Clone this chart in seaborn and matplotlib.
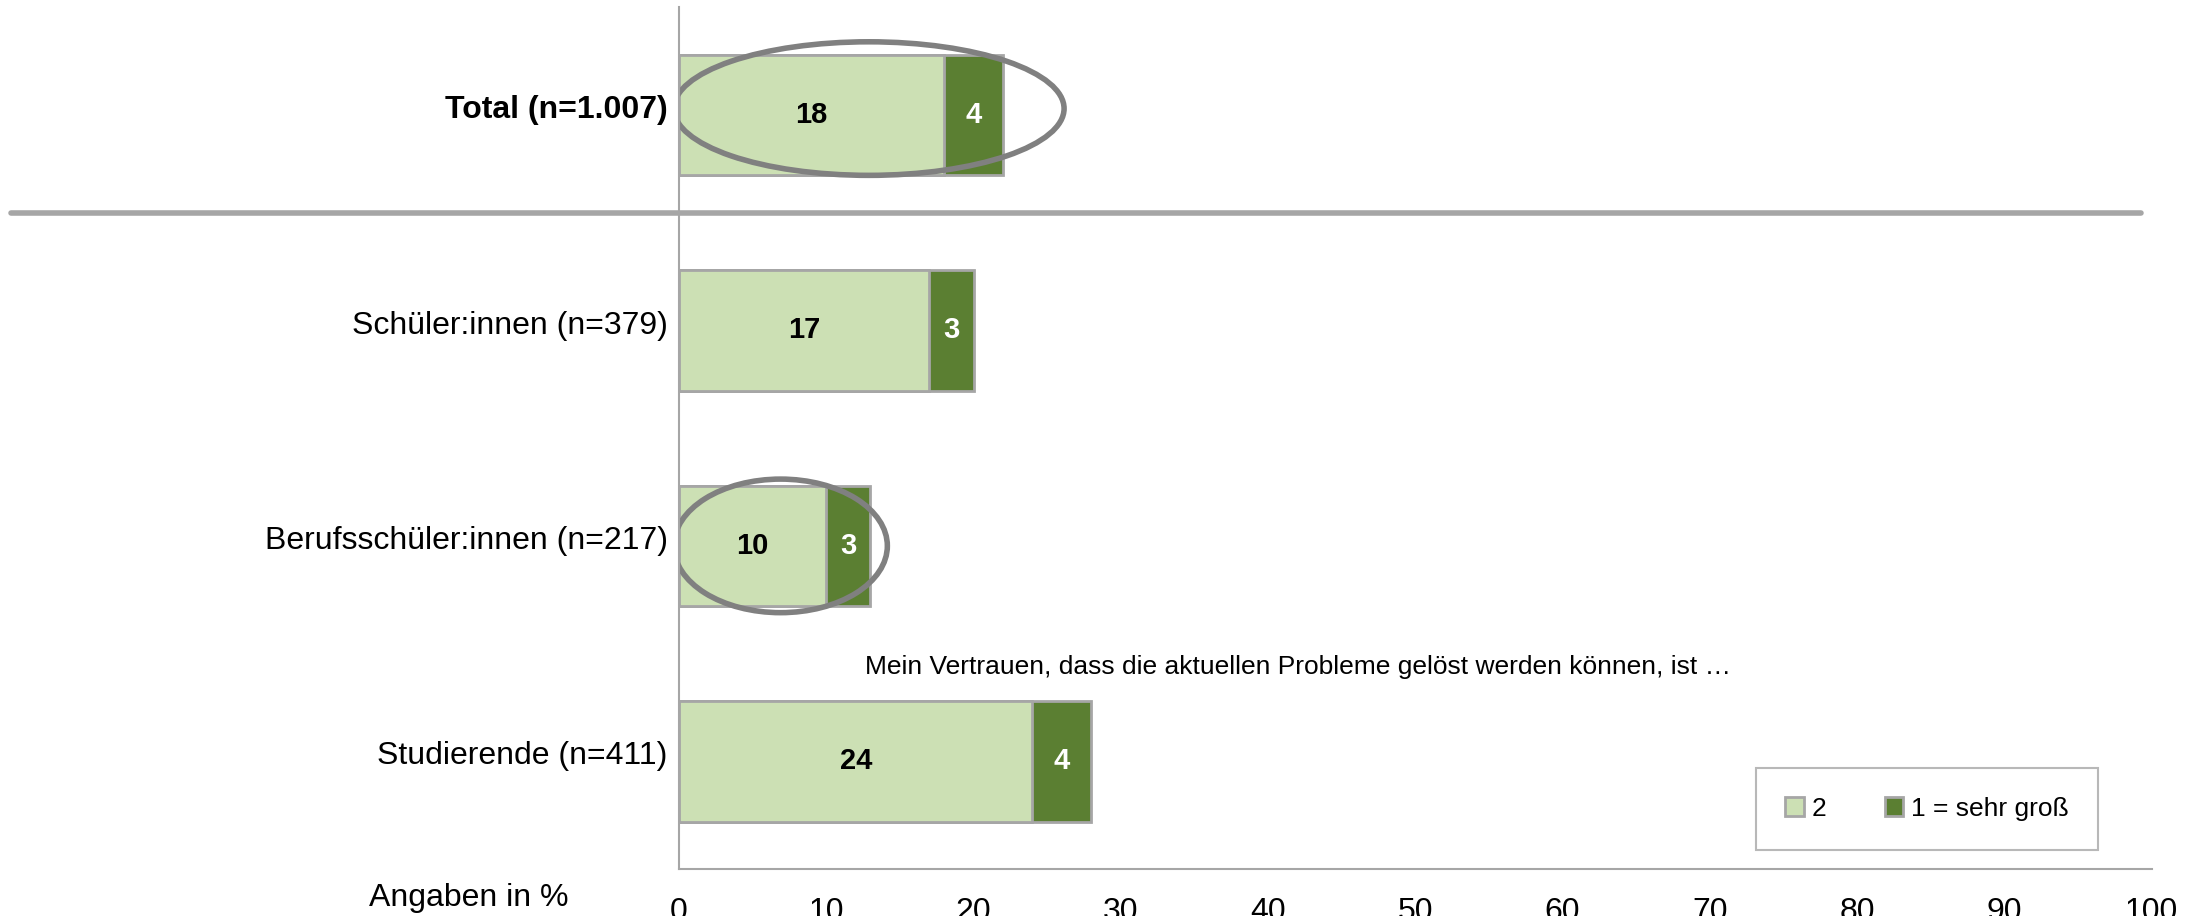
import matplotlib
matplotlib.use("Agg")
import matplotlib.pyplot as plt
import matplotlib.transforms as mtransforms
from matplotlib.patches import Ellipse
import seaborn as sns
import pandas as pd

# Daten
gruppen = ["Total (n=1.007)", "Schüler:innen (n=379)", "Berufsschüler:innen (n=217)", "Studierende (n=411)"]
werte_2 = [18, 17, 10, 24]
werte_1 = [4, 3, 3, 4]
legende = ["2", "1 = sehr groß"]
x_ticks = [0, 10, 20, 30, 40, 50, 60, 70, 80, 90, 100]

hell = "#cce0b4"
dunkel = "#5b7f32"
rand = "#a6a6a6"

sns.set_style("white")
plt.rcParams["font.family"] = ["Liberation Sans", "DejaVu Sans"]
plt.rcParams["text.color"] = "black"
plt.rcParams["xtick.color"] = "black"
plt.rcParams["ytick.color"] = "black"

df = pd.DataFrame({"gruppe": gruppen, "w2": werte_2, "w1": werte_1})
df["summe"] = df["w2"] + df["w1"]

fig = plt.figure(figsize=(22.08, 9.16), dpi=100)
ax = fig.add_axes([0.3075, 0.0513, 0.667, 0.9407])

# gestapelte Balken: erst Summe (dunkel), dann Anteil 2 (hell) drüber
sns.barplot(data=df, x="summe", y="gruppe", color=dunkel, saturation=1, width=0.56,
            edgecolor=rand, linewidth=2, ax=ax, orient="h")
sns.barplot(data=df, x="w2", y="gruppe", color=hell, saturation=1, width=0.56,
            edgecolor=rand, linewidth=2, ax=ax, orient="h")

for i, row in df.iterrows():
    ax.text(row["w2"] / 2, i, str(row["w2"]), ha="center", va="center",
            fontsize=21, fontweight="bold", color="black")
    ax.text(row["w2"] + row["w1"] / 2, i, str(row["w1"]), ha="center", va="center",
            fontsize=21, fontweight="bold", color="white")

ax.set_xlim(0, 100)
ax.set_ylim(3.5, -0.5)
ax.set_xticks(x_ticks)
ax.set_xticklabels([str(t) for t in x_ticks], fontsize=23)
ax.set_xlabel("")
ax.set_ylabel("")
ax.tick_params(axis="x", direction="out", length=7, width=1.2, color=rand, pad=13)
ax.tick_params(axis="y", length=0, labelsize=23, pad=8)
ax.get_yticklabels()[0].set_fontweight("bold")

# Kategorienbeschriftung etwas nach oben
hoch = mtransforms.ScaledTranslation(0, 6 / 72, fig.dpi_scale_trans)
for lbl in ax.get_yticklabels():
    lbl.set_transform(lbl.get_transform() + hoch)

for s in ["top", "right"]:
    ax.spines[s].set_visible(False)
ax.spines["left"].set_color(rand)
ax.spines["bottom"].set_color(rand)
ax.spines["left"].set_linewidth(1.5)
ax.spines["bottom"].set_linewidth(1.5)

# Trennlinie unter Total
ax.axhline(0.455, xmin=-0.4535, xmax=0.993, color=rand, linewidth=4, clip_on=False)

# Markierungen
ax.add_patch(Ellipse((12.9, -0.03), 26.5, 0.62, fill=False, edgecolor="#808080", linewidth=4))
ax.add_patch(Ellipse((6.9, 2.0), 14.5, 0.62, fill=False, edgecolor="#808080", linewidth=4))

ax.text(12.6, 2.56, "Mein Vertrauen, dass die aktuellen Probleme gelöst werden können, ist …",
        fontsize=19, ha="left", va="center")

fig.text(0.167, 0.02, "Angaben in %", fontsize=23, ha="left", va="center")

handles = [plt.Rectangle((0, 0), 1, 1, facecolor=hell, edgecolor=rand, linewidth=2),
           plt.Rectangle((0, 0), 1, 1, facecolor=dunkel, edgecolor=rand, linewidth=2)]
leg = ax.legend(handles, legende, loc="center", bbox_to_anchor=(0.8475, 0.070), ncol=2,
                fontsize=19, frameon=True, fancybox=False, handlelength=0.7, handleheight=0.7,
                handletextpad=0.3, columnspacing=2.2, borderpad=1.1)
leg.get_frame().set_edgecolor(rand)
leg.get_frame().set_linewidth(1.5)

fig.savefig("out.png", dpi=100)
